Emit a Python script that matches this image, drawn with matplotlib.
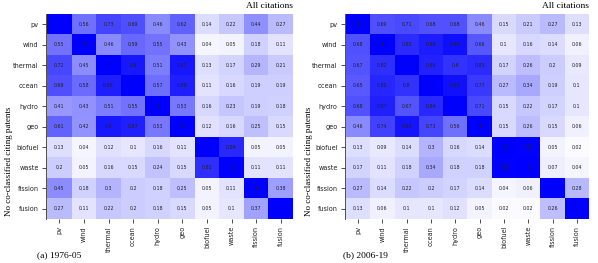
import numpy as np
import matplotlib
matplotlib.use("Agg")
import matplotlib.pyplot as plt
from matplotlib.colors import LinearSegmentedColormap

categories = ["pv", "wind", "thermal", "ocean", "hydro", "geo",
              "biofuel", "waste", "fission", "fusion"]

matrix_a = [
    [1, 0.56, 0.73, 0.69, 0.46, 0.62, 0.14, 0.22, 0.44, 0.27],
    [0.55, 1, 0.46, 0.59, 0.55, 0.43, 0.04, 0.05, 0.18, 0.11],
    [0.72, 0.45, 1, 0.9, 0.51, 0.91, 0.13, 0.17, 0.29, 0.21],
    [0.69, 0.58, 0.88, 1, 0.57, 0.88, 0.11, 0.16, 0.19, 0.19],
    [0.41, 0.43, 0.51, 0.55, 1, 0.53, 0.16, 0.23, 0.19, 0.18],
    [0.61, 0.42, 0.9, 0.87, 0.53, 1, 0.12, 0.16, 0.25, 0.15],
    [0.13, 0.04, 0.12, 0.1, 0.16, 0.11, 1, 0.84, 0.05, 0.05],
    [0.2, 0.05, 0.16, 0.15, 0.24, 0.15, 0.82, 1, 0.11, 0.11],
    [0.45, 0.18, 0.3, 0.2, 0.18, 0.25, 0.05, 0.11, 1, 0.38],
    [0.27, 0.11, 0.22, 0.2, 0.18, 0.15, 0.05, 0.1, 0.37, 1],
]

matrix_b = [
    [1, 0.69, 0.71, 0.68, 0.68, 0.46, 0.15, 0.21, 0.27, 0.13],
    [0.68, 1, 0.83, 0.89, 0.94, 0.66, 0.1, 0.16, 0.14, 0.06],
    [0.67, 0.82, 1, 0.86, 0.8, 0.83, 0.17, 0.26, 0.2, 0.09],
    [0.65, 0.85, 0.8, 1, 0.93, 0.77, 0.27, 0.34, 0.19, 0.1],
    [0.68, 0.87, 0.67, 0.84, 1, 0.71, 0.15, 0.22, 0.17, 0.1],
    [0.46, 0.74, 0.92, 0.73, 0.56, 1, 0.15, 0.26, 0.15, 0.06],
    [0.13, 0.09, 0.14, 0.3, 0.16, 0.14, 1, 0.99, 0.05, 0.02],
    [0.17, 0.11, 0.18, 0.34, 0.18, 0.18, 0.99, 1, 0.07, 0.04],
    [0.27, 0.14, 0.22, 0.2, 0.17, 0.14, 0.04, 0.06, 1, 0.28],
    [0.13, 0.06, 0.1, 0.1, 0.12, 0.05, 0.02, 0.02, 0.26, 1],
]

panel_titles = ["(a) 1976-05", "(b) 2006-19"]
corner_title = "All citations"
ylabel = "No co-classified citing patents"

cmap = LinearSegmentedColormap.from_list("wb", ["#ffffff", "#0000ff"])
serif = "Liberation Serif"

fig = plt.figure(figsize=(5.98, 2.63), dpi=100)

panels = [
    (matrix_a, [47 / 598, 1 - 219 / 263, 246 / 598, 205 / 263], 9 / 598, 37 / 598),
    (matrix_b, [346 / 598, 1 - 219 / 263, 243 / 598, 205 / 263], 309 / 598, 343 / 598),
]

for (mat, rect, ylab_x, title_x), ptitle in zip(panels, panel_titles):
    data = np.array(mat, dtype=float)
    n = len(categories)
    ax = fig.add_axes(rect)
    for s in ["top", "right", "bottom"]:
        ax.spines[s].set_visible(False)
    ax.spines["left"].set_position(("outward", 1))
    ax.imshow(data, cmap=cmap, vmin=0, vmax=1, aspect="auto",
              interpolation="nearest")
    ax.spines["left"].set_bounds(-0.5, n - 0.5)
    ax.spines["left"].set_linewidth(0.6)
    ax.spines["left"].set_color("#333333")
    for i in range(n):
        for j in range(n):
            v = data[i, j]
            txt = "1" if v == 1 else f"{v:g}"
            ax.text(j, i, txt, ha="center", va="center", fontsize=3.4,
                    color="#222222")
    ax.set_xticks(range(n))
    ax.set_yticks(range(n))
    ax.set_xticklabels(categories, rotation=90, fontsize=4.7)
    ax.set_yticklabels(categories, fontsize=4.7)
    ax.tick_params(axis="both", length=3, width=0.6, pad=2, color="#333333",
                   labelcolor="#222222")
    ax.text(1.0, 1.02, corner_title, transform=ax.transAxes, ha="right",
            va="bottom", fontsize=6.8, family=serif)
    fig.text(ylab_x, 0.385, ylabel, rotation=90, ha="center", va="center",
             fontsize=6.5, family=serif)
    fig.text(title_x, 1 - 255 / 263, ptitle, ha="left", va="center",
             fontsize=6.8, family=serif)

fig.savefig("out.png", dpi=100)
